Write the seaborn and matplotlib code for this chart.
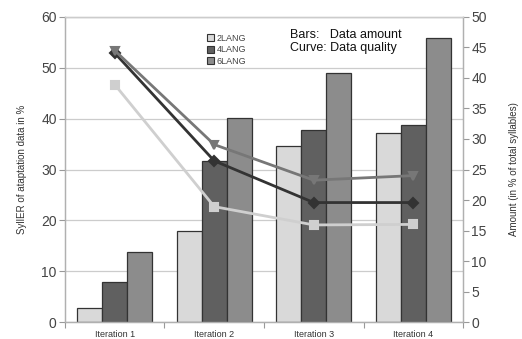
import matplotlib
matplotlib.use("Agg")
import matplotlib.pyplot as plt
import seaborn as sns
import pandas as pd
from matplotlib.patches import Patch
from matplotlib.ticker import FixedLocator

sns.set_style("white")
plt.rcParams['font.family'] = ['Liberation Sans', 'DejaVu Sans']

iterations = ["Iteration 1", "Iteration 2", "Iteration 3", "Iteration 4"]
series = ["2LANG", "4LANG", "6LANG"]

# Bars: data amount (right axis, % of total syllables)
amount_2lang = [2.3, 15.0, 28.9, 31.0]
amount_4lang = [6.6, 26.4, 31.4, 32.3]
amount_6lang = [11.4, 33.4, 40.8, 46.6]

# Curves: SylIER (left axis, %)
sylier_2lang = [46.7, 22.7, 19.1, 19.2]
sylier_4lang = [52.9, 31.7, 23.5, 23.5]
sylier_6lang = [53.4, 34.9, 27.9, 28.8]

bar_colors = ["#d9d9d9", "#606060", "#8c8c8c"]
line_colors = ["#cfcfcf", "#333333", "#777777"]
markers = ["s", "D", "v"]

bars = pd.DataFrame({
    "iteration": iterations * 3,
    "series": sum([[s] * 4 for s in series], []),
    "amount": amount_2lang + amount_4lang + amount_6lang,
})
lines = pd.DataFrame({
    "iteration": iterations * 3,
    "series": sum([[s] * 4 for s in series], []),
    "sylier": sylier_2lang + sylier_4lang + sylier_6lang,
})

fig = plt.figure(figsize=(5.22, 3.39), dpi=100)
ax = fig.add_axes([0.1245, 0.050, 0.7625, 0.900])
ax2 = ax.twinx()

# bars on right axis
sns.barplot(data=bars, x="iteration", y="amount", hue="series", order=iterations,
            hue_order=series, palette=bar_colors, width=0.75, gap=0,
            edgecolor="#333333", linewidth=0.9, ax=ax2, legend=False, zorder=2)
ax2.set_ylim(0, 50)

# gridlines matching left ticks, drawn on bar axes (behind bars)
left_ticks = [0, 10, 20, 30, 40, 50, 60]
for t in left_ticks:
    ax2.axhline(t * 50 / 60, color="#cccccc", lw=0.9, zorder=0)

# lines on left axis
sns.pointplot(data=lines, x="iteration", y="sylier", hue="series", order=iterations,
              hue_order=series, palette=line_colors, markers=markers,
              linestyles="-", dodge=False, ax=ax, legend=False,
              markersize=5.5, linewidth=2.0)
ax.set_ylim(0, 60)
ax.set_xlim(-0.5, 3.5)
ax.set_zorder(ax2.get_zorder() + 1)
ax.patch.set_visible(False)

# axes styling
tick_color = "#444444"
ax.set_yticks(left_ticks)
ax.tick_params(axis="y", labelsize=10, colors="#999999", labelcolor=tick_color,
               length=4, width=0.8, left=True, pad=2)
ax2.set_yticks(range(0, 51, 5))
ax2.tick_params(axis="y", labelsize=10, colors="#999999", labelcolor=tick_color,
                length=4, width=0.8, right=True, pad=2)

ax.set_xticks(range(4))
ax.set_xticklabels(iterations)
ax.xaxis.set_minor_locator(FixedLocator([-0.5, 0.5, 1.5, 2.5, 3.5]))
ax.tick_params(axis="x", which="major", length=0, labelsize=6.5, labelcolor="#333333",
               pad=6, bottom=True, labelbottom=True)
ax.tick_params(axis="x", which="minor", length=4, width=0.8, color="#999999", bottom=True)
ax2.set_xlabel("")
ax.set_xlabel("")

for a in (ax, ax2):
    for s in a.spines.values():
        s.set_color("#b0b0b0")
        s.set_linewidth(0.9)
ax.spines["top"].set_color("#cccccc")

ax.set_ylabel("SylIER of ataptation data in %", fontsize=7, color="#333333", labelpad=10)
ax2.set_ylabel("Amount (in % of total syllables)", fontsize=7, color="#333333", labelpad=16)

handles = [Patch(facecolor=c, edgecolor="#333333", linewidth=0.8) for c in bar_colors]
leg = ax.legend(handles, series, loc="upper left", bbox_to_anchor=(0.345, 0.96),
                frameon=False, fontsize=6.5, handlelength=0.8, handleheight=0.8,
                handletextpad=0.3, labelspacing=0.3, borderpad=0)
for t in leg.get_texts():
    t.set_color("#444444")

ax.text(0.565, 0.92, "Bars:   Data amount\nCurve: Data quality", transform=ax.transAxes,
        fontsize=9, color="#111111", va="center", ha="left", linespacing=1.05)

fig.savefig("out.png", dpi=100)
